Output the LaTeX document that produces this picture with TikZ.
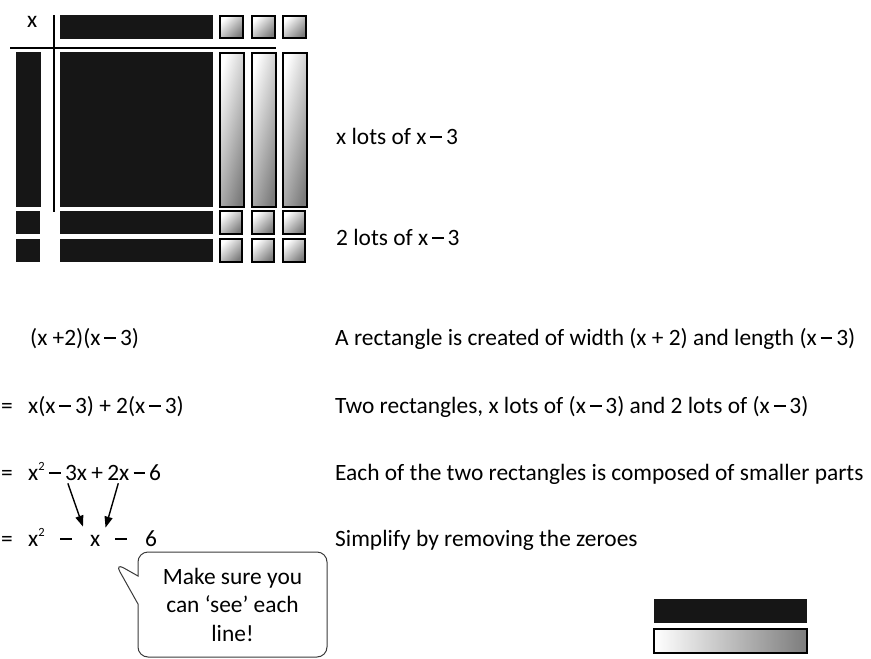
\documentclass[tikz,border=0pt]{standalone}
\usepackage{fontspec}
\setmainfont{Carlito}
\usetikzlibrary{arrows.meta,positioning,shapes.callouts}
\definecolor{TileDark}{HTML}{161616}
\definecolor{TileShade}{HTML}{7C7C7C}
\definecolor{BubbleLine}{HTML}{3A3A3A}
\newcommand\mn{\rule[0.25em]{0.5em}{0.075em}}
\newcommand\sqr{\textsuperscript{\fontsize{12.5}{12.5}\selectfont 2}}

\begin{document}
\begin{tikzpicture}[x=1pt, y=-1pt,
  txt/.style={font=\fontsize{23.4}{28}\selectfont, inner sep=0pt, anchor=base west},
  dark/.style={fill=TileDark},
  lite/.style={draw=black, line width=1.4pt, left color=white, right color=TileShade},
  litesq/.style={lite, shading angle=45},
  litebar/.style={lite, shading angle=75},
  rule/.style={line width=1.2pt},
  pointer/.style={-{Triangle[length=11pt, width=8pt]}, line width=1.4pt},
  bubble/.style={rectangle callout, draw=BubbleLine, line width=1pt,
                 rounded corners=10pt, minimum width=189pt, minimum height=105pt,
                 align=center, callout pointer width=28pt,
                 font=\fontsize{23.4}{28.5}\selectfont}
]
\useasboundingbox (0,0) rectangle (871,659);

% algebra tiles: top edge (x - 3)
\node[txt] (xlab) at (27,27) {x};
\fill[dark] (60,15) rectangle (213,39);
\foreach \a in {220,252,283} \draw[litesq] (\a,16) rectangle ++(23,22);
\draw[rule] (10,48) -- (276,48);
\draw[rule] (54,15) -- (54,212);

% x lots of (x - 3)
\fill[dark] (16,52) rectangle (41,207);
\fill[dark] (60,52) rectangle (213,207);
\foreach \a in {220,252,283} \draw[litebar] (\a,53) rectangle ++(24,154);

% 2 lots of (x - 3)
\foreach \b in {211,239} {
  \fill[dark] (16,\b) rectangle ++(24,23);
  \fill[dark] (60,\b) rectangle ++(153,23);
  \foreach \a in {220,252,283} \draw[litesq] (\a,\b) rectangle ++(22,23);
}

\node[txt] (xlots) at (336,144) {x lots of x\,\mn\,3};
\node[txt] (twolots) at (336,245) {2 lots of x\,\mn\,3};

% working, left column
\node[txt] (eq1) at (30,345) {(x +2)(x\,\mn\,3)};
\node[txt] (eq2s) at (1,413) {=};
\node[txt] (eq2) at (28,413) {x(x\,\mn\,3) + 2(x\,\mn\,3)};
\node[txt] (eq3s) at (1,480) {=};
\node[txt] (eq3a) at (28,480) {x\sqr\,\mn\,};
\node[txt, base right=0pt of eq3a] (eq3b) {3x};
\node[txt, base right=0pt of eq3b] (eq3c) {\,+\,};
\node[txt, base right=0pt of eq3c] (eq3d) {2x};
\node[txt, base right=0pt of eq3d] (eq3e) {\,\mn\,6};
\node[txt] (eq4s) at (1,546) {=};
\node[txt] (eq4a) at (28,546) {x\sqr};
\node[txt] (eq4b) at (60,546) {\mn};
\node[txt] (eq4x) at (90,546) {x};
\node[txt] (eq4c) at (115,546) {\mn};
\node[txt] (eq4d) at (145,546) {6};

% like terms collected
\draw[pointer] ([xshift=3pt, yshift=-3pt]eq3b.south west) -- ([xshift=-7pt, yshift=8pt]eq4x.north west);
\draw[pointer] ([yshift=-3pt]eq3d.south) -- ([xshift=5pt, yshift=7pt]eq4x.north east);

% explanations, right column
\node[txt] (why1) at (335,345) {A rectangle is created of width (x + 2) and length (x\,\mn\,3)};
\node[txt] (why2) at (335,413) {Two rectangles, x lots of (x\,\mn\,3) and 2 lots of (x\,\mn\,3)};
\node[txt] (why3) at (335,480) {Each of the two rectangles is composed of smaller parts};
\node[txt] (why4) at (335,546) {Simplify by removing the zeroes};

% speech bubble
\node[bubble, callout absolute pointer={(115,563)}] (tip) at (232.5,604.5)
  {Make sure you\\can ‘see’ each\\line!};

% key
\fill[dark] (654,599) rectangle (807,623);
\draw[lite] (654,629) rectangle (807,653);

\end{tikzpicture}
\end{document}
